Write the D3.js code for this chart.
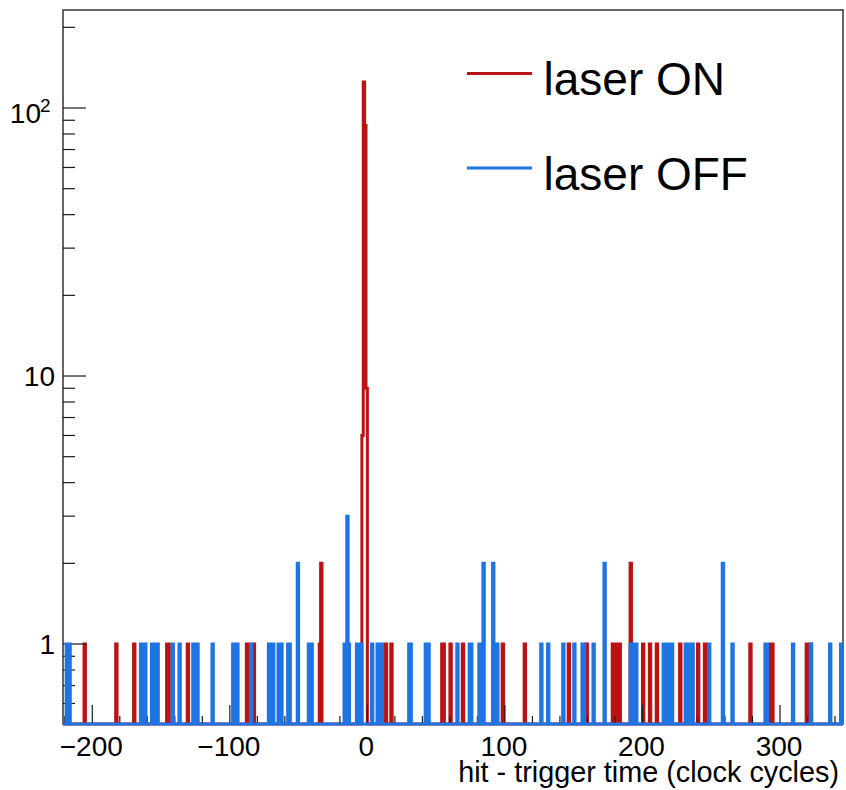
<!DOCTYPE html>
<html>
<head>
<meta charset="utf-8">
<script src="https://cdn.jsdelivr.net/npm/d3@7"></script>
<style>
  html, body { margin: 0; padding: 0; background: #fff; }
  svg { display: block; font-family: "Liberation Sans", Arial, Helvetica, sans-serif; }
</style>
</head>
<body>
<div id="chart"></div>
<script>
// ---- Data (bin = left edge in clock cycles, bins are 1 cycle wide) ----------
const laserOn = [
  [-206, 1], [-183, 1], [-170, 1], [-146, 1], [-145, 1], [-131, 1],
  [-88, 1], [-87, 1], [-83, 1], [-35, 1], [-34, 2],
  [-4, 6], [-3, 125], [-2, 86], [-1, 9],
  [13, 1], [17, 1], [54, 1], [55, 1], [60, 1], [69, 1], [98, 1], [114, 1],
  [146, 1], [159, 1], [178, 1], [180, 1], [182, 1], [183, 1],
  [191, 2], [200, 1], [205, 1], [210, 1], [227, 1], [240, 1], [245, 1],
  [278, 1], [293, 1], [294, 1], [319, 1], [321, 1], [322, 1]
];

const laserOff = [
  [-219, 1], [-217, 1],
  [-165, 1], [-163, 1], [-162, 1],
  [-157, 1], [-155, 1], [-153, 1],
  [-142, 1], [-137, 1],
  [-127, 1], [-125, 1], [-124, 1],
  [-113, 1],
  [-98, 1], [-96, 1], [-95, 1],
  [-85, 1],
  [-72, 1], [-70, 1], [-69, 1],
  [-65, 1], [-63, 1],
  [-58, 1], [-57, 1], [-51, 2],
  [-43, 1], [-41, 1],
  [-17, 1], [-15, 3], [-14, 1],
  [-8, 1], [-6, 1], [-5, 1],
  [3, 1], [7, 1], [9, 1], [10, 1],
  [30, 1], [31, 1], [42, 1], [44, 1], [65, 1], [74, 1], [75, 1],
  [81, 1], [83, 1], [84, 2], [91, 2], [92, 1], [94, 1],
  [126, 1], [131, 1], [142, 1], [150, 1], [156, 1], [157, 1], [164, 1], [172, 2],
  [191, 1], [193, 1], [195, 1],
  [215, 1], [217, 1], [219, 1], [221, 1],
  [231, 1], [233, 1], [236, 1], [248, 1], [258, 2], [265, 1],
  [289, 1], [290, 1], [309, 1], [322, 1], [336, 1], [344, 1]
];

const xDomain = [-221.3, 345.8];
const yDomain = [0.503, 232.1];
const xMajorTicks = [-200, -100, 0, 100, 200, 300];
const yMajorTicks = [1, 10, 100];
const yMajorLabels = ["1", "10", "10"];
const yMajorSup = ["", "", "2"];
const seriesNames = ["laser ON", "laser OFF"];
const seriesColors = ["#bd1212", "#1f74e4"];
const xTitle = "hit - trigger time (clock cycles)";

// ---- Layout ------------------------------------------------------------------
const W = 846, H = 790;
const mL = 63, mR = 843, mT = 10, mB = 724;

const svg = d3.select("#chart").append("svg")
  .attr("width", W).attr("height", H);

const x = d3.scaleLinear().domain(xDomain).range([mL, mR]);
const y = d3.scaleLog().domain(yDomain).range([mB, mT]);

svg.append("defs").append("clipPath").attr("id", "plot")
  .append("rect")
  .attr("x", mL).attr("y", 0)
  .attr("width", mR - mL).attr("height", mB + 3);

function histPath(data) {
  const counts = new Map(data);
  const first = Math.floor(xDomain[0]);
  const last = Math.ceil(xDomain[1]);
  const pts = [[x(first), y(yDomain[0])]];
  for (let b = first; b < last; b++) {
    const c = counts.get(b) || 0;
    const yy = c > 0 ? y(c) : y(yDomain[0]);
    pts.push([x(b), yy], [x(b + 1), yy]);
  }
  pts.push([x(last), y(yDomain[0])]);
  return d3.line()(pts);
}

function drawHist(data, color) {
  svg.append("path")
    .attr("clip-path", "url(#plot)")
    .attr("d", histPath(data))
    .attr("fill", "none")
    .attr("stroke", color)
    .attr("stroke-width", 3)
    .attr("stroke-linejoin", "miter");
}

// red histogram below the axes, blue one drawn "same" on top
drawHist(laserOn, seriesColors[0]);

// ---- Frame & axes -------------------------------------------------------------
const axisColor = "#1a1a1a";
svg.append("rect")
  .attr("x", mL).attr("y", mT)
  .attr("width", mR - mL).attr("height", mB - mT)
  .attr("fill", "none").attr("stroke", "#333").attr("stroke-width", 1.5);

const gx = svg.append("g").attr("stroke", axisColor).attr("stroke-width", 1.2);
const xMinor = x.ticks(30).filter(v => !xMajorTicks.includes(v));
gx.selectAll("line.minor").data(xMinor).join("line")
  .attr("x1", d => x(d)).attr("x2", d => x(d))
  .attr("y1", mB).attr("y2", mB - 8);
gx.selectAll("line.major").data(xMajorTicks).join("line")
  .attr("x1", d => x(d)).attr("x2", d => x(d))
  .attr("y1", mB).attr("y2", mB - 19);

const gy = svg.append("g").attr("stroke", axisColor).attr("stroke-width", 1.2);
const yMinor = y.ticks().filter(v => !yMajorTicks.includes(v));
gy.selectAll("line.minor").data(yMinor).join("line")
  .attr("x1", mL).attr("x2", mL + 12)
  .attr("y1", d => y(d)).attr("y2", d => y(d));
gy.selectAll("line.major").data(yMajorTicks).join("line")
  .attr("x1", mL).attr("x2", mL + 23)
  .attr("y1", d => y(d)).attr("y2", d => y(d));

// tick labels
const fmt = d3.format("d");
svg.append("g").selectAll("text").data(xMajorTicks).join("text")
  .attr("x", d => x(d) - 1)
  .attr("y", 756)
  .attr("text-anchor", "middle")
  .attr("font-size", 28)
  .attr("fill", "#000")
  .text(d => fmt(d));

yMajorTicks.forEach((v, i) => {
  const sup = yMajorSup[i];
  svg.append("text")
    .attr("x", sup ? 41 : 55)
    .attr("y", y(v) + (sup ? 14.5 : 10))
    .attr("text-anchor", "end")
    .attr("font-size", 28)
    .attr("fill", "#000")
    .text(yMajorLabels[i]);
  if (sup) {
    svg.append("text")
      .attr("x", 40)
      .attr("y", y(v) + 4)
      .attr("font-size", 19)
      .attr("fill", "#000")
      .text(sup);
  }
});

svg.append("text")
  .attr("x", 839).attr("y", 782)
  .attr("text-anchor", "end")
  .attr("font-size", 28.8)
  .attr("fill", "#000")
  .text(xTitle);

drawHist(laserOff, seriesColors[1]);

// ---- Legend -------------------------------------------------------------------
const legendY = [73.5, 168];
seriesNames.forEach((name, i) => {
  svg.append("line")
    .attr("x1", 467).attr("x2", 532)
    .attr("y1", legendY[i]).attr("y2", legendY[i])
    .attr("stroke", seriesColors[i]).attr("stroke-width", 3);
  svg.append("text")
    .attr("x", 543.5).attr("y", legendY[i] + 21.5)
    .attr("font-size", 46)
    .attr("fill", "#000")
    .text(name);
});
</script>
</body>
</html>
